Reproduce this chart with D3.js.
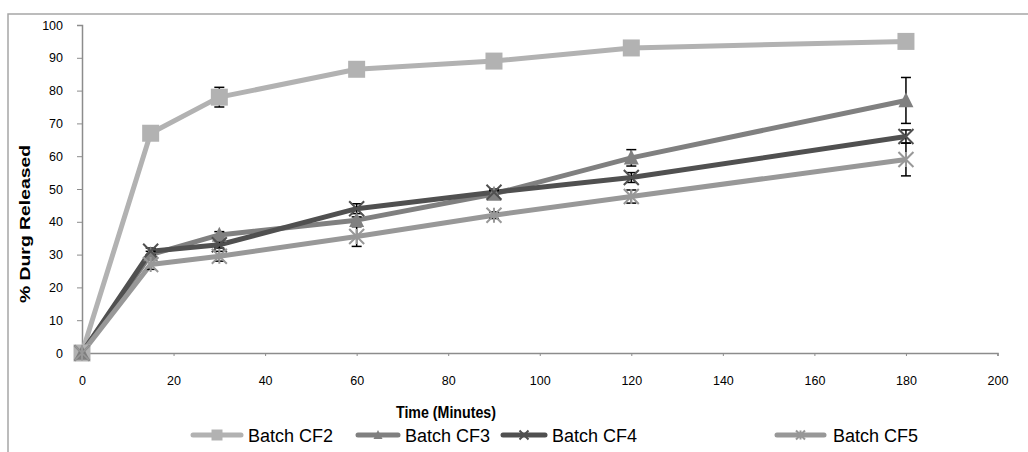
<!DOCTYPE html>
<html lang="en">
	<head>
		<meta charset="utf-8">
		<title>% Drug Released vs Time</title>
		<script type="text/javascript" src="https://cdn.jsdelivr.net/npm/d3@7"></script>
		<style type="text/css">
			body { margin: 0; background: #fff; }
			text { font-family: "Liberation Sans", Arial, sans-serif; }
		</style>
	</head>
	<body>
		<script type="text/javascript">

			//Data
			var times = [0, 15, 30, 60, 90, 120, 180];
			var seriesNames = ["Batch CF2", "Batch CF3", "Batch CF4", "Batch CF5"];
			var cf2 = [0, 67, 78, 86.5, 89, 93, 95];
			var cf3 = [0, 30, 36, 40.5, 48.5, 59.5, 77];
			var cf4 = [0, 31, 33, 44, 49, 53.5, 66];
			var cf5 = [0, 27, 29.5, 35.5, 42, 47.7, 59];
			var cf2Err = [0, 0, 3, 0, 0, 0, 0];
			var cf3Err = [0, 1, 1, 1, 1, 2.5, 7];
			var cf4Err = [0, 1, 1, 1.5, 1, 1.5, 2];
			var cf5Err = [0, 1.5, 1.5, 3, 1, 2, 5];
			var xTicks = [0, 20, 40, 60, 80, 100, 120, 140, 160, 180, 200];
			var yTicks = [0, 10, 20, 30, 40, 50, 60, 70, 80, 90, 100];

			var w = 1028;
			var h = 452;

			var colors = ["#b2b2b2", "#808080", "#505050", "#989898"];
			var markers = ["square", "triangle", "x", "star"];
			var values = [cf2, cf3, cf4, cf5];
			var errors = [cf2Err, cf3Err, cf4Err, cf5Err];

			var series = seriesNames.map(function(name, i) {
				return {
					name: name,
					color: colors[i],
					marker: markers[i],
					points: times.map(function(t, j) {
						return { t: t, v: values[i][j], e: errors[i][j] };
					})
				};
			});

			//Scales
			var xScale = d3.scaleLinear()
							.domain([0, 200])
							.range([82, 997.5]);

			var yScale = d3.scaleLinear()
							.domain([0, 100])
							.range([353, 25]);

			var svg = d3.select("body")
						.append("svg")
						.attr("width", w)
						.attr("height", h);

			//Outer frame (right and bottom run off the picture)
			svg.append("rect")
				.attr("x", 8)
				.attr("y", 14)
				.attr("width", 1200)
				.attr("height", 600)
				.attr("fill", "none")
				.attr("stroke", "#a6a6a6")
				.attr("stroke-width", 1.5);

			//Axes
			var yAxis = d3.axisLeft(yScale)
							.tickValues(yTicks)
							.tickSize(5)
							.tickPadding(14);

			var xAxis = d3.axisBottom(xScale)
							.tickValues(xTicks)
							.tickSize(3)
							.tickPadding(20);

			var gy = svg.append("g")
						.attr("transform", "translate(82,0)")
						.call(yAxis);

			var gx = svg.append("g")
						.attr("transform", "translate(0,353)")
						.call(xAxis);

			[gx, gy].forEach(function(g) {
				g.select(".domain").attr("stroke", "#8c8c8c").attr("stroke-width", 1.5);
				g.selectAll(".tick line").attr("stroke", "#8c8c8c").attr("stroke-width", 1);
				g.selectAll(".tick text")
					.attr("fill", "#000")
					.attr("font-size", "12.5px")
					.attr("font-family", "Liberation Sans, Arial, sans-serif");
			});

			//Axis titles
			svg.append("text")
				.attr("x", 446)
				.attr("y", 418)
				.attr("text-anchor", "middle")
				.attr("font-weight", "bold")
				.attr("font-size", "17px")
				.attr("textLength", 100)
				.attr("lengthAdjust", "spacingAndGlyphs")
				.text("Time (Minutes)");

			svg.append("text")
				.attr("transform", "translate(30,224) rotate(-90)")
				.attr("text-anchor", "middle")
				.attr("font-weight", "bold")
				.attr("font-size", "15px")
				.attr("textLength", 158)
				.attr("lengthAdjust", "spacingAndGlyphs")
				.text("% Durg Released");

			//Marker shapes
			function markerPath(type, s) {
				var r = s / 2;
				if (type === "square") {
					return "M" + (-r) + "," + (-r) + "h" + s + "v" + s + "h" + (-s) + "Z";
				}
				if (type === "triangle") {
					return "M0," + (-r * 1.1) + "L" + r + "," + (r * 0.9) + "L" + (-r) + "," + (r * 0.9) + "Z";
				}
				if (type === "x") {
					return "M" + (-r) + "," + (-r) + "L" + r + "," + r + "M" + r + "," + (-r) + "L" + (-r) + "," + r;
				}
				//star: X plus vertical bar
				return "M" + (-r) + "," + (-r) + "L" + r + "," + r + "M" + r + "," + (-r) + "L" + (-r) + "," + r +
					   "M0," + (-r) + "L0," + r;
			}

			function drawMarker(sel, d, size) {
				var filled = d.marker === "square" || d.marker === "triangle";
				sel.attr("d", markerPath(d.marker, size))
				   .attr("fill", filled ? d.color : "none")
				   .attr("stroke", d.color)
				   .attr("stroke-width", filled ? 0 : 2);
			}

			var line = d3.line()
						.x(function(d) { return xScale(d.t); })
						.y(function(d) { return yScale(d.v); });

			//Lines
			svg.selectAll("path.series")
				.data(series)
				.enter()
				.append("path")
				.attr("class", "series")
				.attr("d", function(d) { return line(d.points); })
				.attr("fill", "none")
				.attr("stroke", function(d) { return d.color; })
				.attr("stroke-width", 5)
				.attr("stroke-linejoin", "round");

			//Error bars
			var errData = [];
			series.forEach(function(s) {
				s.points.forEach(function(p) {
					if (p.e > 0) errData.push(p);
				});
			});

			var eb = svg.selectAll("g.err")
						.data(errData)
						.enter()
						.append("g")
						.attr("class", "err")
						.attr("stroke", "#000")
						.attr("stroke-width", 1.5);

			eb.append("line")
				.attr("x1", function(d) { return xScale(d.t); })
				.attr("x2", function(d) { return xScale(d.t); })
				.attr("y1", function(d) { return yScale(d.v + d.e); })
				.attr("y2", function(d) { return yScale(d.v - d.e); });

			[1, -1].forEach(function(sign) {
				eb.append("line")
					.attr("x1", function(d) { return xScale(d.t) - 5; })
					.attr("x2", function(d) { return xScale(d.t) + 5; })
					.attr("y1", function(d) { return yScale(d.v + sign * d.e); })
					.attr("y2", function(d) { return yScale(d.v + sign * d.e); });
			});

			//Markers
			series.forEach(function(s) {
				svg.selectAll(null)
					.data(s.points)
					.enter()
					.append("path")
					.attr("transform", function(d) {
						return "translate(" + xScale(d.t) + "," + yScale(d.v) + ")";
					})
					.each(function() { drawMarker(d3.select(this), s, s.marker === "square" ? 17 : 15); });
			});

			//Legend (line start, line end, text start for each entry)
			var legendLine0 = [193, 358, 503, 777];
			var legendLine1 = [241, 398, 545, 824];
			var legendText = [248, 405, 552, 833];

			var legend = svg.selectAll("g.legend")
							.data(series)
							.enter()
							.append("g")
							.attr("class", "legend");

			legend.append("line")
				.attr("x1", function(d, i) { return legendLine0[i]; })
				.attr("x2", function(d, i) { return legendLine1[i]; })
				.attr("y1", 435)
				.attr("y2", 435)
				.attr("stroke", function(d) { return d.color; })
				.attr("stroke-width", 5)
				.attr("stroke-linecap", "round");

			legend.append("path")
				.attr("transform", function(d, i) {
					return "translate(" + (legendLine0[i] + legendLine1[i]) / 2 + ",435)";
				})
				.each(function(d) { drawMarker(d3.select(this), d, d.marker === "square" ? 11 : 9); });

			legend.append("text")
				.attr("x", function(d, i) { return legendText[i]; })
				.attr("y", 441.5)
				.attr("font-size", "18px")
				.attr("fill", "#000")
				.text(function(d) { return d.name; });

		</script>
	</body>
</html>
